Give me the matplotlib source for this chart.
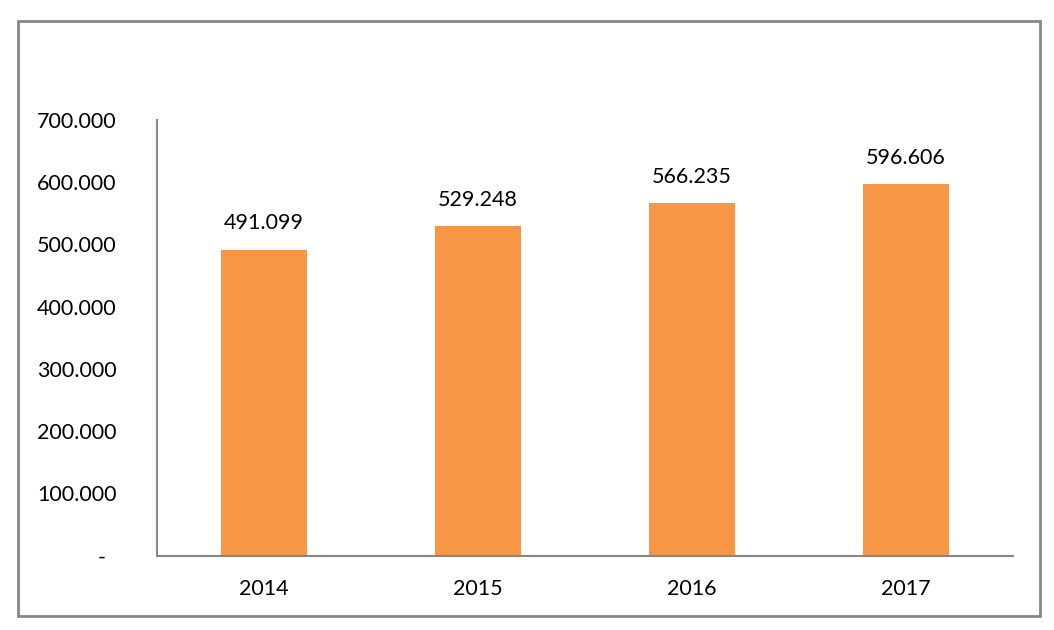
import matplotlib.pyplot as plt
from matplotlib.patches import Rectangle
from matplotlib.ticker import FuncFormatter

# dados
anos = ['2014', '2015', '2016', '2017']
valores = [491099, 529248, 566235, 596606]
yticks = [0, 100000, 200000, 300000, 400000, 500000, 600000, 700000]

plt.rcParams['font.family'] = ['Lato', 'DejaVu Sans']
fs = 15.5

W, H = 1054, 630
fig = plt.figure(figsize=(W / 100, H / 100), dpi=100)

# moldura externa
fig.patches.append(Rectangle((17.5 / W, 1 - 615.5 / H), (1040 - 17.5) / W, (615.5 - 20.5) / H,
                             transform=fig.transFigure, fill=False,
                             edgecolor='#868686', linewidth=2))

ax = fig.add_axes([157 / W, 1 - 555.5 / H, (1013 - 157) / W, (555.5 - 120) / H])
x = range(len(anos))
ax.bar(x, valores, width=0.4, color='#F79646')

# rotulos das barras
for xi, v in zip(x, valores):
    ax.annotate('{:,}'.format(v).replace(',', '.'), (xi, v), xytext=(0, 12),
                textcoords='offset points', ha='center', va='bottom', fontsize=fs)

ax.yaxis.set_major_formatter(FuncFormatter(
    lambda v, p: '-  ' if v == 0 else '{:.3f}'.format(v / 1000)))
ax.set_yticks(yticks)
ax.set_ylim(0, 700000)
ax.set_xlim(-0.5, 3.5)
ax.set_xticks(list(x))
ax.set_xticklabels(anos)

for s in ['top', 'right']:
    ax.spines[s].set_visible(False)
for s in ['left', 'bottom']:
    ax.spines[s].set_color('#868686')
    ax.spines[s].set_linewidth(1.5)

ax.tick_params(axis='both', length=0, labelsize=fs)
ax.tick_params(axis='y', pad=29)
ax.tick_params(axis='x', pad=17)

fig.savefig('out.png', dpi=100)
